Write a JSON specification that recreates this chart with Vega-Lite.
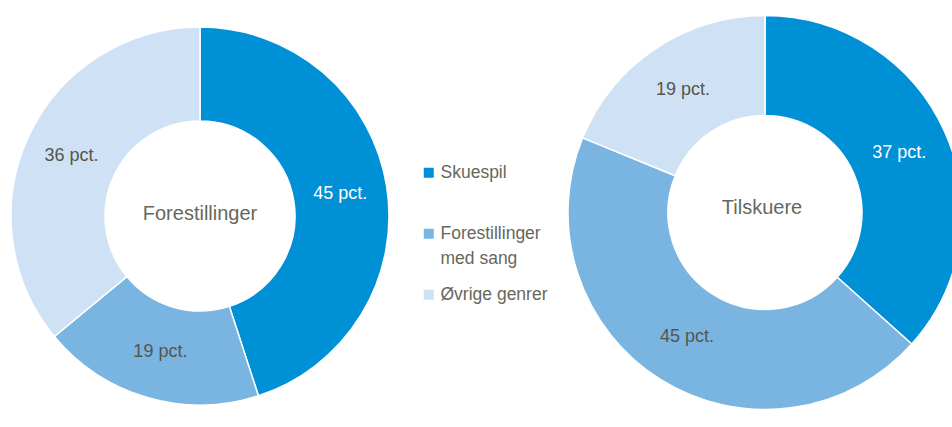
{
  "$schema": "https://vega.github.io/schema/vega-lite/v6.json",
  "padding": 0,
  "background": "white",
  "bounds": "flush",
  "spacing": 168,
  "datasets": {
    "genres": [
      {"chart": "Forestillinger", "genre": "Skuespil", "value": 45, "label": "45 pct."},
      {"chart": "Forestillinger", "genre": "Forestillinger med sang", "value": 19, "label": "19 pct."},
      {"chart": "Forestillinger", "genre": "Øvrige genrer", "value": 36, "label": "36 pct."},
      {"chart": "Tilskuere", "genre": "Skuespil", "value": 37, "label": "37 pct."},
      {"chart": "Tilskuere", "genre": "Forestillinger med sang", "value": 45, "label": "45 pct."},
      {"chart": "Tilskuere", "genre": "Øvrige genrer", "value": 19, "label": "19 pct."}
    ]
  },
  "config": {
    "view": {"stroke": null},
    "font": "Liberation Sans",
    "style": {"guide-label": {"lineHeight": 25}},
    "legend": {
      "orient": "none",
      "legendX": 420,
      "legendY": 164,
      "padding": 0,
      "symbolType": "square",
      "symbolSize": 100,
      "symbolStrokeWidth": 0,
      "labelFontSize": 17.5,
      "labelColor": "#67675b",
      "labelFont": "Liberation Sans",
      "labelOffset": 3,
      "labelLimit": 300,
      "rowPadding": 17,
      "gridAlign": "all"
    }
  },
  "hconcat": [
    {
      "width": 400,
      "height": 427,
      "data": {"name": "genres"},
      "transform": [
        {"filter": "datum.chart == 'Forestillinger'"},
        {"window": [{"op": "row_number", "as": "idx"}]}
      ],
      "layer": [
        {
          "mark": {"type": "arc", "outerRadius": 189, "innerRadius": 95, "stroke": "white", "strokeWidth": 1.5, "yOffset": 2.5},
          "encoding": {
            "theta": {"field": "value", "type": "quantitative", "stack": true},
            "order": {"field": "idx", "type": "quantitative"},
            "color": {
              "field": "genre",
              "type": "nominal",
              "title": null,
              "scale": {
                "domain": ["Skuespil", "Forestillinger med sang", "Øvrige genrer"],
                "range": ["#0090d5", "#7ab5e2", "#cfe2f5"]
              },
              "legend": {
                "title": null,
                "labelExpr": "datum.label == 'Forestillinger med sang' ? ['Forestillinger', 'med sang'] : datum.label"
              }
            }
          }
        },
        {
          "mark": {"type": "text", "radius": 142, "yOffset": 2.5, "fontSize": 18},
          "encoding": {
            "theta": {"field": "value", "type": "quantitative", "stack": true},
            "order": {"field": "idx", "type": "quantitative"},
            "text": {"field": "label", "type": "nominal"},
            "color": {"condition": {"test": "datum.genre == 'Skuespil'", "value": "white"}, "value": "#55554b"}
          }
        },
        {
          "transform": [{"aggregate": [{"op": "sum", "field": "value", "as": "total"}], "groupby": ["chart"]}],
          "mark": {"type": "text", "fontSize": 20, "color": "#67675b"},
          "encoding": {"text": {"field": "chart", "type": "nominal"}}
        }
      ]
    },
    {
      "width": 384,
      "height": 427,
      "data": {"name": "genres"},
      "transform": [
        {"filter": "datum.chart == 'Tilskuere'"},
        {"window": [{"op": "row_number", "as": "idx"}]}
      ],
      "layer": [
        {
          "mark": {"type": "arc", "outerRadius": 197, "innerRadius": 97, "stroke": "white", "strokeWidth": 1.5, "xOffset": 5, "yOffset": -1, "clip": true},
          "encoding": {
            "theta": {"field": "value", "type": "quantitative", "stack": true},
            "order": {"field": "idx", "type": "quantitative"},
            "color": {
              "field": "genre",
              "type": "nominal",
              "title": null,
              "scale": {
                "domain": ["Skuespil", "Forestillinger med sang", "Øvrige genrer"],
                "range": ["#0090d5", "#7ab5e2", "#cfe2f5"]
              },
              "legend": {
                "title": null,
                "labelExpr": "datum.label == 'Forestillinger med sang' ? ['Forestillinger', 'med sang'] : datum.label"
              }
            }
          }
        },
        {
          "mark": {"type": "text", "radius": 147, "xOffset": 5, "yOffset": -1, "fontSize": 18, "clip": true},
          "encoding": {
            "theta": {"field": "value", "type": "quantitative", "stack": true},
            "order": {"field": "idx", "type": "quantitative"},
            "text": {"field": "label", "type": "nominal"},
            "color": {"condition": {"test": "datum.genre == 'Skuespil'", "value": "white"}, "value": "#55554b"}
          }
        },
        {
          "transform": [{"aggregate": [{"op": "sum", "field": "value", "as": "total"}], "groupby": ["chart"]}],
          "mark": {"type": "text", "fontSize": 20, "color": "#67675b", "xOffset": 2, "yOffset": -6},
          "encoding": {"text": {"field": "chart", "type": "nominal"}}
        }
      ]
    }
  ]
}
